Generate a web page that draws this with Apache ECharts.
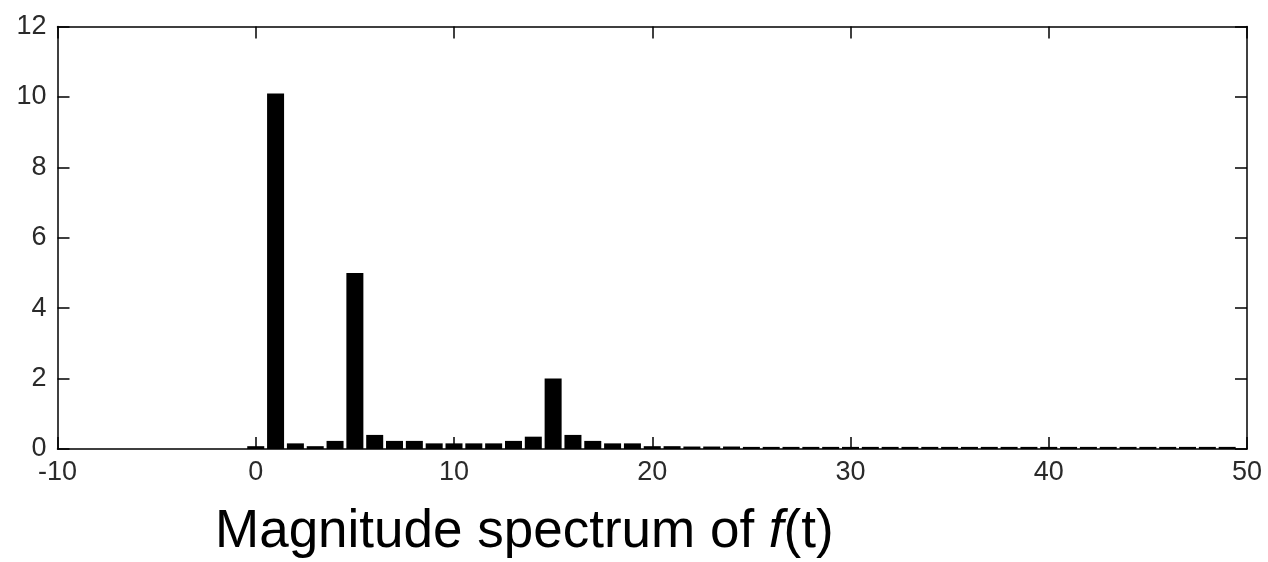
<!DOCTYPE html>
<html>
<head>
<meta charset="utf-8">
<script src="https://cdn.jsdelivr.net/npm/echarts@6/dist/echarts.min.js"></script>
<style>
html,body{margin:0;padding:0;background:#fff;}
#chart{width:1268px;height:562px;}
</style>
</head>
<body>
<div id="chart"></div>
<script>
// Frequency bins (index) and magnitudes
const freqs = [0,1,2,3,4,5,6,7,8,9,10,11,12,13,14,15,16,17,18,19,20,21,22,23,24,25,26,27,28,29,30,31,32,33,34,35,36,37,38,39,40,41,42,43,44,45,46,47,48,49];
const magnitudes = [0.08,10.1,0.16,0.08,0.23,5.0,0.4,0.23,0.23,0.16,0.16,0.16,0.16,0.23,0.35,2.0,0.4,0.23,0.16,0.16,0.08,0.08,0.07,0.07,0.07,0.06,0.06,0.06,0.06,0.06,0.06,0.06,0.06,0.06,0.06,0.06,0.06,0.06,0.06,0.06,0.06,0.06,0.06,0.06,0.06,0.06,0.06,0.06,0.06,0.06];
const xTicks = [-10, 0, 10, 20, 30, 40, 50];
const yTicks = [0, 2, 4, 6, 8, 10, 12];
const titleText = 'Magnitude spectrum of ';

const chart = echarts.init(document.getElementById('chart'));
const labelFont = {fontFamily: 'Liberation Sans', fontSize: 27, color: '#2a2a2a'};
const lineStyle = {color: '#000', width: 1.5};

const option = {
  animation: false,
  backgroundColor: '#fff',
  grid: {left: 57.5, right: 21, top: 26.5, bottom: 113, containLabel: false},
  title: {
    left: 210, top: 501,
    text: '{a|' + titleText + '}{b|f}{a|(t)}',
    textStyle: {
      fontWeight: 'normal',
      rich: {
        a: {fontFamily: 'Liberation Sans', fontSize: 53, color: '#000', fontWeight: 'normal'},
        b: {fontFamily: 'Liberation Sans', fontSize: 53, color: '#000', fontWeight: 'normal', fontStyle: 'italic'}
      }
    }
  },
  xAxis: [
    {
      type: 'value', min: xTicks[0], max: xTicks[xTicks.length - 1], interval: 10,
      position: 'bottom',
      axisLine: {show: true, onZero: false, lineStyle: lineStyle},
      axisTick: {show: true, inside: true, length: 12, lineStyle: lineStyle},
      axisLabel: Object.assign({margin: 10, showMinLabel: true, showMaxLabel: true}, labelFont),
      splitLine: {show: false}
    },
    {
      type: 'value', min: xTicks[0], max: xTicks[xTicks.length - 1], interval: 10,
      position: 'top',
      axisLine: {show: true, onZero: false, lineStyle: lineStyle},
      axisTick: {show: true, inside: true, length: 12, lineStyle: lineStyle},
      axisLabel: {show: false},
      splitLine: {show: false}
    }
  ],
  yAxis: [
    {
      type: 'value', min: yTicks[0], max: yTicks[yTicks.length - 1], interval: 2,
      position: 'left',
      axisLine: {show: true, onZero: false, lineStyle: lineStyle},
      axisTick: {show: true, inside: true, length: 12, lineStyle: lineStyle},
      axisLabel: Object.assign({margin: 11}, labelFont),
      splitLine: {show: false}
    },
    {
      type: 'value', min: yTicks[0], max: yTicks[yTicks.length - 1], interval: 2,
      position: 'right',
      axisLine: {show: true, onZero: false, lineStyle: lineStyle},
      axisTick: {show: true, inside: true, length: 12, lineStyle: lineStyle},
      axisLabel: {show: false},
      splitLine: {show: false}
    }
  ],
  series: [{
    type: 'bar',
    xAxisIndex: 0, yAxisIndex: 0,
    barWidth: 17,
    itemStyle: {color: '#000'},
    data: freqs.map((f, i) => [f, magnitudes[i]])
  }]
};
chart.setOption(option);
</script>
</body>
</html>
